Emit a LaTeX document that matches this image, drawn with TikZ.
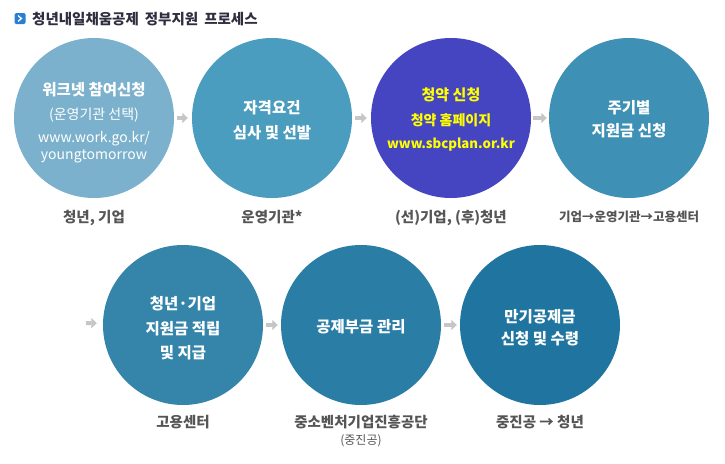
\documentclass[tikz,border=0pt]{standalone}
\usepackage{fontspec}
\setmainfont{Noto Sans CJK KR}
\usetikzlibrary{arrows.meta}
\definecolor{cA}{HTML}{7BB1CC}
\definecolor{cB}{HTML}{4A9DBE}
\definecolor{cC}{HTML}{4545C2}
\definecolor{cD}{HTML}{3E90B4}
\definecolor{cE}{HTML}{3585AB}
\definecolor{cF}{HTML}{2A7EA6}
\definecolor{cG}{HTML}{1F75A0}
\definecolor{lbl}{HTML}{555555}
\definecolor{ttl}{HTML}{2E2E40}
\definecolor{icon}{HTML}{2A7FD4}
\definecolor{arr}{HTML}{C6C6C6}
\definecolor{ylw}{HTML}{FFFF00}
\begin{document}
\begin{tikzpicture}[x=1pt,y=-1pt,
  stepcircle/.style={circle,minimum size=160pt,inner sep=0pt,draw=none},
  ctext/.style={anchor=base,inner sep=0pt,text=white,font=\fontsize{15.5}{18}\selectfont\bfseries},
  csub/.style={anchor=base,inner sep=0pt,text=white,font=\fontsize{14}{16}\selectfont},
  ytext/.style={anchor=base,inner sep=0pt,text=ylw,font=\fontsize{14}{16}\selectfont\bfseries},
  label/.style={anchor=base,inner sep=0pt,text=lbl,font=\fontsize{14.5}{16}\selectfont\bfseries},
  flow/.style={draw=arr,line width=4pt,-{Triangle[width=10pt,length=5.5pt]}}]
\useasboundingbox (0,0) rectangle (725,463);
% title
\node[fill=icon,rounded corners=1.5pt,minimum size=11pt,inner sep=0pt] (ico) at (20,18.5) {};
\fill[white] (18.2,15) -- (22.5,18.5) -- (18.2,22) -- (18.2,20.4) -- (20.4,18.5) -- (18.2,16.6) -- cycle;
\node[anchor=base west,inner sep=0pt,text=ttl,font=\fontsize{14.5}{16}\selectfont\bfseries] (title) at (32,24.5) {청년내일채움공제\hspace{6pt}정부지원\hspace{6pt}프로세스};
% row 1 circles
\node[stepcircle,fill=cA] (c1) at (94,118) {};
\node[stepcircle,fill=cB] (c2) at (272,118) {};
\node[stepcircle,fill=cC] (c3) at (451,118) {};
\node[stepcircle,fill=cD] (c4) at (629,118) {};
% row 2 circles
\node[stepcircle,fill=cE] (c5) at (183,325) {};
\node[stepcircle,fill=cF] (c6) at (361,325) {};
\node[stepcircle,fill=cG] (c7) at (540,325) {};
% circle texts
\node[ctext] (t1a) at (94,95) {워크넷 참여신청};
\node[csub] (t1b) at (94,119.5) {(운영기관 선택)};
\node[csub] (t1c) at (94,142.5) {www.work.go.kr/};
\node[csub] (t1d) at (94,159.5) {youngtomorrow};
\node[ctext] (t2a) at (272,113) {자격요건};
\node[ctext] (t2b) at (272,138) {심사 및 선발};
\node[ytext,font=\fontsize{15}{16}\selectfont\bfseries] (t3a) at (451,100.5) {청약 신청};
\node[ytext] (t3b) at (451,125.5) {청약 홈페이지};
\node[ytext,font=\fontsize{13.2}{16}\selectfont\bfseries] (t3c) at (451,148.5) {www.sbcplan.or.kr};
\node[ctext] (t4a) at (629,113) {주기별};
\node[ctext] (t4b) at (629,136) {지원금 신청};
\node[ctext] (t5a) at (183,309) {청년·기업};
\node[ctext] (t5b) at (183,334) {지원금 적립};
\node[ctext] (t5c) at (183,358) {및 지급};
\node[ctext] (t6a) at (361,332) {공제부금 관리};
\node[ctext] (t7a) at (540,322) {만기공제금};
\node[ctext] (t7b) at (540,344) {신청 및 수령};
% labels
\node[label] (l1) at (94,222.5) {청년, 기업};
\node[label] (l2) at (272,222.5) {운영기관*};
\node[label] (l3) at (451,222.5) {(선)기업, (후)청년};
\node[label,font=\fontsize{12.5}{14}\selectfont\bfseries] (l4) at (629,221.5) {기업→운영기관→고용센터};
\node[label] (l5) at (183,427.5) {고용센터};
\node[label] (l6) at (361,427.5) {중소벤처기업진흥공단};
\node[label,font=\fontsize{12}{14}\selectfont] (l6b) at (361,444.5) {(중진공)};
\node[label] (l7) at (540,427.5) {중진공 → 청년};
% arrows
\coordinate (a0) at (86,323);
\draw[flow,shorten <=3pt,shorten >=4pt] (c1) -- (c2);
\draw[flow,shorten <=3pt,shorten >=4pt] (c2) -- (c3);
\draw[flow,shorten <=2pt,shorten >=2pt] (c3) -- (c4);
\draw[flow,shorten >=6pt] (a0) -- (c5);
\draw[flow,shorten <=3pt,shorten >=3pt] (c5) -- (c6);
\draw[flow,shorten <=3pt,shorten >=3pt] (c6) -- (c7);
\end{tikzpicture}
\end{document}
